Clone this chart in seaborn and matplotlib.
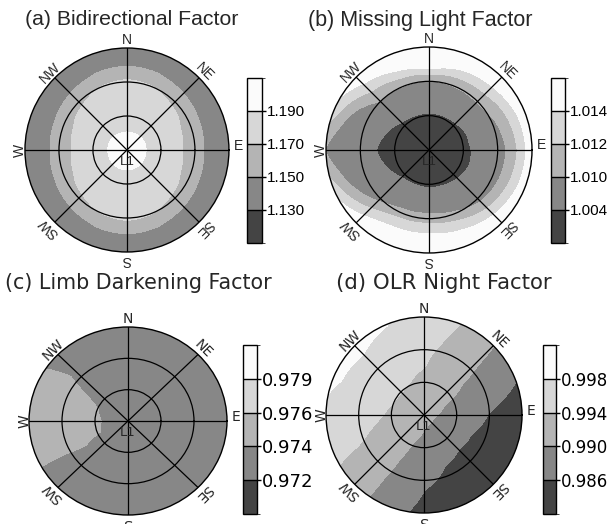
import numpy as np
import matplotlib
matplotlib.use("Agg")
import matplotlib.pyplot as plt
import seaborn as sns
from matplotlib.colors import ListedColormap, BoundaryNorm
from matplotlib.cm import ScalarMappable

sns.set_style("white")

# Direcoes (graus, anti-horario a partir de E): E, ENE, NE, NNE, N, NNW, NW, WNW, W, WSW, SW, SSW, S, SSE, SE, ESE
directions_deg = np.arange(0, 360, 22.5)
grays = ["#444444", "#878787", "#b4b4b4", "#d7d7d7", "#fbfbfb"]

# (a) Bidirectional Factor
bidir_levels = [1.130, 1.150, 1.170, 1.190]
bidir_radii = [0.2, 0.4, 0.6, 0.8, 1.0]
bidir_center = 1.205
bidir_values = [
    [1.189, 1.189, 1.1885, 1.188, 1.188, 1.188, 1.1885, 1.189, 1.189, 1.189, 1.1893, 1.1895, 1.1895, 1.1895, 1.1893, 1.189],
    [1.180, 1.180, 1.181, 1.185, 1.187, 1.185, 1.181, 1.180, 1.180, 1.180, 1.181, 1.185, 1.187, 1.185, 1.181, 1.180],
    [1.166, 1.168, 1.172, 1.1805, 1.1856, 1.1805, 1.172, 1.168, 1.166, 1.168, 1.172, 1.1805, 1.1856, 1.1805, 1.172, 1.168],
    [1.145, 1.146, 1.148, 1.1505, 1.1509, 1.1505, 1.148, 1.146, 1.145, 1.146, 1.148, 1.1505, 1.1509, 1.1505, 1.148, 1.146],
    [1.137, 1.138, 1.140, 1.141, 1.142, 1.141, 1.140, 1.138, 1.137, 1.138, 1.140, 1.141, 1.142, 1.141, 1.140, 1.138],
]

# (b) Missing Light Factor
missing_levels = [1.004, 1.010, 1.012, 1.014]
missing_radii = [0.2, 0.35, 0.5, 0.6, 0.7, 0.8, 0.9, 1.0]
missing_center = 1.001
missing_values = [
    [1.00233, 1.00236, 1.00254, 1.00262, 1.00267, 1.00262, 1.00246, 1.00228, 1.00215, 1.00228, 1.0025, 1.00258, 1.00254, 1.0025, 1.0024, 1.0023],
    [1.00333, 1.00339, 1.00369, 1.00384, 1.00392, 1.00384, 1.00356, 1.00323, 1.00302, 1.00323, 1.00363, 1.00376, 1.00369, 1.00363, 1.00344, 1.00328],
    [1.00503, 1.00538, 1.00664, 1.00669, 1.00663, 1.00660, 1.00616, 1.00447, 1.00389, 1.00447, 1.006, 1.007, 1.007, 1.0065, 1.0055, 1.00489],
    [1.00710, 1.00769, 1.00904, 1.00876, 1.00850, 1.00860, 1.00856, 1.00605, 1.00496, 1.00605, 1.008, 1.0095, 1.00973, 1.009, 1.00764, 1.00711],
    [1.00917, 1.00995, 1.01086, 1.01080, 1.01067, 1.01075, 1.01057, 1.00763, 1.00616, 1.00763, 1.00998, 1.0116, 1.0118, 1.0112, 1.00979, 1.00933],
    [1.01092, 1.01154, 1.01244, 1.01300, 1.01440, 1.01325, 1.01198, 1.00921, 1.00736, 1.00921, 1.01199, 1.0136, 1.0138, 1.0132, 1.01198, 1.01117],
    [1.01286, 1.01356, 1.01467, 1.01550, 1.01840, 1.01575, 1.01382, 1.01100, 1.00856, 1.01100, 1.01399, 1.0156, 1.0158, 1.0152, 1.01422, 1.01325],
    [1.01571, 1.01578, 1.01689, 1.01800, 1.02240, 1.01825, 1.01564, 1.01300, 1.00976, 1.01300, 1.016, 1.0176, 1.0178, 1.0172, 1.01644, 1.01575],
]

# (c) Limb Darkening Factor
limb_levels = [0.972, 0.974, 0.976, 0.979]
limb_radii = [0.25, 0.5, 0.75, 1.0]
limb_center = 0.9736
limb_values = [
    [0.9733, 0.9733, 0.9734, 0.9735, 0.9735, 0.9736, 0.9737, 0.97388, 0.97395, 0.9739, 0.9736, 0.9735, 0.9734, 0.9733, 0.9733, 0.9733],
    [0.9730, 0.9730, 0.9731, 0.9732, 0.9733, 0.9735, 0.9737, 0.9743, 0.9746, 0.9744, 0.9734, 0.9732, 0.9731, 0.9730, 0.9730, 0.9730],
    [0.9728, 0.9728, 0.9729, 0.9730, 0.9731, 0.9733, 0.9738, 0.9746, 0.9751, 0.9746, 0.9725, 0.9729, 0.9729, 0.9728, 0.9728, 0.9728],
    [0.9726, 0.9726, 0.9727, 0.9728, 0.9729, 0.9731, 0.9737, 0.9743, 0.9755, 0.9746, 0.9725, 0.9727, 0.9727, 0.9726, 0.9726, 0.9726],
]

# (d) OLR Night Factor
olr_levels = [0.986, 0.990, 0.994, 0.998]
olr_radii = [0.25, 0.5, 0.75, 1.0]
olr_center = 0.991
olr_values = [
    [0.98907, 0.98984, 0.99077, 0.99174, 0.99260, 0.99322, 0.99349, 0.99339, 0.99293, 0.99217, 0.99123, 0.99026, 0.98940, 0.98879, 0.98851, 0.98861],
    [0.98715, 0.98867, 0.99054, 0.99248, 0.99414, 0.99500, 0.99539, 0.99525, 0.99460, 0.99333, 0.99146, 0.98952, 0.98780, 0.98657, 0.98602, 0.98622],
    [0.98522, 0.98751, 0.99031, 0.99322, 0.99526, 0.99655, 0.99713, 0.99692, 0.99594, 0.99435, 0.99169, 0.98878, 0.98620, 0.98436, 0.98353, 0.98383],
    [0.98330, 0.98634, 0.99008, 0.99396, 0.99638, 0.99810, 0.99887, 0.99859, 0.99729, 0.99516, 0.99192, 0.98804, 0.98460, 0.98214, 0.98104, 0.98144],
]

# rotulos da rosa dos ventos: nome, angulo, raio, rotacao
compass = [("N", 90, 1.08, 0), ("NE", 45, 1.08, -45), ("E", 2.3, 1.09, 0),
           ("SE", -45, 1.08, -135), ("S", -90, 1.08, 180), ("SW", -135, 1.08, 135),
           ("W", 180, 1.05, 90), ("NW", 135, 1.07, 45)]

fig = plt.figure(figsize=(6.12, 5.24), dpi=100)


def draw_panel(rect, cbar_rect, title, title_xy, title_size, radii, center, values, levels,
               font, tick_size, stretch=False):
    ax = fig.add_axes(rect, projection="polar")
    if stretch:
        # painel (c) aparece levemente achatado na figura original
        ax.set_aspect("auto")
    theta = np.deg2rad(np.append(directions_deg, 360.0))
    z = np.vstack([np.full(len(directions_deg), center), np.array(values)])
    z = np.hstack([z, z[:, :1]])
    r = np.array([0.0] + list(radii))
    T, R = np.meshgrid(theta, r)
    bounds = [z.min() - 1.0] + list(levels) + [z.max() + 1.0]
    cs = ax.contourf(T, R, z, levels=bounds, colors=grays)
    # curvar os segmentos no espaco polar
    for p in cs.get_paths():
        p._interpolation_steps = 20

    ax.set_ylim(0, 1)
    ax.set_yticks([1 / 3, 2 / 3])
    ax.set_yticklabels([])
    ax.set_xticks(np.deg2rad(np.arange(0, 360, 45)))
    ax.set_xticklabels([])
    ax.grid(True, color="black", linewidth=0.9, linestyle="-")
    ax.set_axisbelow(False)
    ax.spines["polar"].set_color("black")
    ax.spines["polar"].set_linewidth(1.0)

    for name, ang, rad, rot in compass:
        ax.text(np.deg2rad(ang), rad, name, rotation=rot, rotation_mode="anchor",
                ha="center", va="center", fontsize=10, family=font)
    ax.text(np.deg2rad(-90), 0.12, "L1", ha="center", va="center", fontsize=9.5, family=font)

    fig.text(title_xy[0], title_xy[1], title, ha="left", va="top", fontsize=title_size, family=font)

    cax = fig.add_axes(cbar_rect)
    sm = ScalarMappable(norm=BoundaryNorm(np.arange(6), 5), cmap=ListedColormap(grays))
    cb = fig.colorbar(sm, cax=cax, ticks=[1, 2, 3, 4], drawedges=True)
    cb.set_ticklabels([f"{v:.3f}" for v in levels])
    cb.outline.set_edgecolor("black")
    cb.outline.set_linewidth(1.0)
    cb.dividers.set_color("black")
    cb.dividers.set_linewidth(1.0)
    cax.tick_params(length=3, width=1, labelsize=tick_size, direction="out", colors="black", pad=0.5)
    for t in cax.get_yticklabels():
        t.set_family(font)


draw_panel([0.0408, 0.5191, 0.3333, 0.3893], [0.4036, 0.5363, 0.0245, 0.3149],
           "(a) Bidirectional Factor", (25 / 612, 1 - 10 / 524), 15.3,
           bidir_radii, bidir_center, bidir_values, bidir_levels, "Liberation Sans", 11)
draw_panel([0.5327, 0.5172, 0.3366, 0.3931], [0.9003, 0.5363, 0.0229, 0.3149],
           "(b) Missing Light Factor", (308 / 612, 1 - 10 / 524), 15.5,
           missing_radii, missing_center, missing_values, missing_levels, "Liberation Sans", 11)
draw_panel([29 / 612, 9 / 524, 198 / 612, 188 / 524], [0.3971, 0.0191, 0.0229, 0.3225],
           "(c) Limb Darkening Factor", (5 / 612, 1 - 273 / 524), 14.9,
           limb_radii, limb_center, limb_values, limb_levels, "DejaVu Sans", 13, stretch=True)
draw_panel([0.5327, 0.0210, 0.3203, 0.3740], [0.8873, 0.0191, 0.0212, 0.3225],
           "(d) OLR Night Factor", (336 / 612, 1 - 273 / 524), 15.3,
           olr_radii, olr_center, olr_values, olr_levels, "DejaVu Sans", 12)

fig.savefig("out.png", dpi=100)
